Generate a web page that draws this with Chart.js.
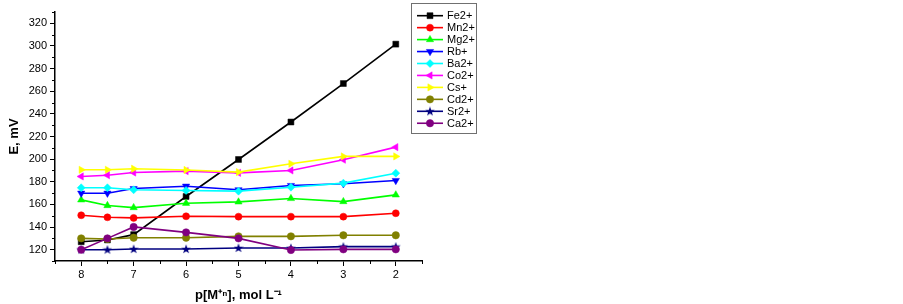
<!DOCTYPE html>
<html>
<head>
<meta charset="utf-8">
<script src="https://cdn.jsdelivr.net/npm/chart.js@4/dist/chart.umd.min.js"></script>
<style>
  html, body { margin: 0; padding: 0; background: #fff; }
  #wrap { width: 903px; height: 304px; }
</style>
</head>
<body>
<div id="wrap"><canvas id="chart"></canvas></div>
<script>
// p[M+n] values (x axis, reversed)
const pM = [8, 7.5, 7, 6, 5, 4, 3, 2];
const xTicks = [8, 7, 6, 5, 4, 3, 2];
const yTicks = [120, 140, 160, 180, 200, 220, 240, 260, 280, 300, 320];

const ions = ["Fe2+", "Mn2+", "Mg2+", "Rb+", "Ba2+", "Co2+", "Cs+", "Cd2+", "Sr2+", "Ca2+"];

// E, mV for each ion
const fe = [127, 128.6, 133.3, 167, 199.7, 232.8, 266.8, 301.6];
const mn = [150.4, 148.6, 148.1, 149.5, 149.2, 149.2, 149.2, 152.2];
const mg = [164, 159, 157.2, 161, 162.2, 165.2, 162.5, 168.4];
const rb = [169.9, 169.9, 174, 176.1, 172.9, 176.7, 178.2, 181.1];
const ba = [174.7, 174.7, 172.9, 172.3, 171.7, 175.2, 178.8, 187.6];
const co = [184.7, 185.8, 188.2, 189.4, 187.9, 190, 199.5, 210.6];
const cs = [190.6, 190.6, 191.5, 190.4, 188.5, 195.9, 202.4, 202.4];
const cd = [130, 129.5, 130.6, 130.6, 131.8, 131.8, 132.7, 132.7];
const sr = [120, 120, 120.6, 120.6, 121.5, 121.5, 122.7, 122.7];
const ca = [120, 130, 140.1, 135.3, 130, 119.7, 120.3, 120.3];

const series = [fe, mn, mg, rb, ba, co, cs, cd, sr, ca];
const colors = ["#000000", "#ff0000", "#00ff00", "#0000ff", "#00ffff", "#ff00ff", "#ffff00", "#808000", "#000080", "#800080"];

// filled star for Sr2+
function makeStar(color) {
  const c = document.createElement("canvas");
  c.width = 10; c.height = 10;
  const g = c.getContext("2d");
  g.fillStyle = color;
  g.beginPath();
  for (let i = 0; i < 10; i++) {
    const r = i % 2 ? 2 : 5;
    const a = -Math.PI / 2 + i * Math.PI / 5;
    g.lineTo(5 + r * Math.cos(a), 5.3 + r * Math.sin(a));
  }
  g.closePath();
  g.fill();
  return c;
}

const styles = [
  { pointStyle: "rect", rot: 0, r: 4.2 },
  { pointStyle: "circle", rot: 0, r: 3.5 },
  { pointStyle: "triangle", rot: 0, r: 4.2 },
  { pointStyle: "triangle", rot: 180, r: 4.2 },
  { pointStyle: "rectRot", rot: 0, r: 4 },
  { pointStyle: "triangle", rot: 270, r: 4.2 },
  { pointStyle: "triangle", rot: 90, r: 4.2 },
  { pointStyle: "circle", rot: 0, r: 3.7 },
  { pointStyle: makeStar("#000080"), rot: 0, r: 4 },
  { pointStyle: "circle", rot: 0, r: 3.7 }
];

const datasets = series.map((vals, i) => ({
  label: ions[i],
  data: pM.map((x, j) => ({ x: x, y: vals[j] })),
  borderColor: colors[i],
  backgroundColor: colors[i],
  borderWidth: 1.6,
  pointStyle: styles[i].pointStyle,
  pointRotation: styles[i].rot,
  pointRadius: styles[i].r,
  pointBorderWidth: 0.5,
  tension: 0,
  order: -i
}));

const FONT = "'Liberation Sans', Arial, sans-serif";

// minor ticks like the Origin plot
const minorTicks = {
  id: "minorTicks",
  afterDraw(chart) {
    const ctx = chart.ctx;
    const xs = chart.scales.x, ys = chart.scales.y;
    const a = chart.chartArea;
    ctx.save();
    ctx.strokeStyle = "#000";
    ctx.lineWidth = 1;
    ctx.beginPath();
    for (let v = 110; v <= 330; v += 10) {
      if (yTicks.includes(v)) continue;
      const y = Math.round(ys.getPixelForValue(v)) + 0.5;
      ctx.moveTo(a.left - 3, y);
      ctx.lineTo(a.left, y);
    }
    for (let v = 1.5; v <= 8.5; v += 0.5) {
      if (xTicks.includes(v)) continue;
      const x = Math.round(xs.getPixelForValue(v)) + 0.5;
      ctx.moveTo(x, a.bottom);
      ctx.lineTo(x, a.bottom + 3);
    }
    ctx.stroke();
    ctx.restore();
  }
};

// boxed legend at the right of the plot
const boxLegend = {
  id: "boxLegend",
  afterDraw(chart) {
    const ctx = chart.ctx;
    ctx.save();
    ctx.strokeStyle = "#707070";
    ctx.lineWidth = 1;
    ctx.strokeRect(411.5, 3.5, 65, 130);
    ctx.font = "11px " + FONT;
    ctx.textBaseline = "middle";
    ctx.fillStyle = "#000";
    chart.data.datasets.forEach((ds, i) => {
      const y = 15.7 + i * 11.95;
      ctx.strokeStyle = ds.borderColor;
      ctx.lineWidth = 1.6;
      ctx.beginPath();
      ctx.moveTo(417, y);
      ctx.lineTo(443, y);
      ctx.stroke();
      ctx.fillStyle = ds.backgroundColor;
      ctx.strokeStyle = ds.borderColor;
      ctx.lineWidth = 0.5;
      if (Chart.helpers && Chart.helpers.drawPoint) {
        Chart.helpers.drawPoint(ctx, {
          pointStyle: ds.pointStyle,
          rotation: ds.pointRotation,
          radius: ds.pointRadius,
          borderWidth: 0.5
        }, 430, y);
      }
      ctx.fillStyle = "#000";
      ctx.fillText(ds.label, 447, y + 0.5);
    });
    ctx.restore();
  }
};

new Chart(document.getElementById("chart"), {
  type: "line",
  data: { datasets: datasets },
  plugins: [minorTicks, boxLegend],
  options: {
    responsive: true,
    maintainAspectRatio: false,
    animation: false,
    layout: { padding: { left: 0, top: 12, right: 481, bottom: 0 } },
    plugins: {
      legend: { display: false },
      tooltip: { enabled: false }
    },
    scales: {
      x: {
        type: "linear",
        reverse: true,
        min: 1.5,
        max: 8.5,
        afterBuildTicks: s => { s.ticks = xTicks.map(v => ({ value: v })); },
        afterFit: s => { s.height = 43; },
        grid: { drawOnChartArea: false, tickLength: 5, color: "#000", lineWidth: 1 },
        border: { display: true, color: "#000", width: 1.5 },
        ticks: { color: "#000", padding: 2, font: { family: FONT, size: 11 } },
        title: {
          display: true,
          text: "p[M\u207A\u207F], mol L\u207B\u00B9",
          color: "#000",
          padding: { top: 0, bottom: 1 },
          font: { family: FONT, size: 13, weight: "bold" }
        }
      },
      y: {
        min: 110,
        max: 330,
        afterBuildTicks: s => { s.ticks = yTicks.map(v => ({ value: v })); },
        afterFit: s => { s.width = 55; },
        grid: { drawOnChartArea: false, tickLength: 5, color: "#000", lineWidth: 1 },
        border: { display: true, color: "#000", width: 1.5 },
        ticks: { color: "#000", padding: 3, font: { family: FONT, size: 11 } },
        title: {
          display: true,
          text: "E, mV",
          color: "#000",
          padding: { top: 7, bottom: 0 },
          font: { family: FONT, size: 13, weight: "bold" }
        }
      }
    }
  }
});
</script>
</body>
</html>
